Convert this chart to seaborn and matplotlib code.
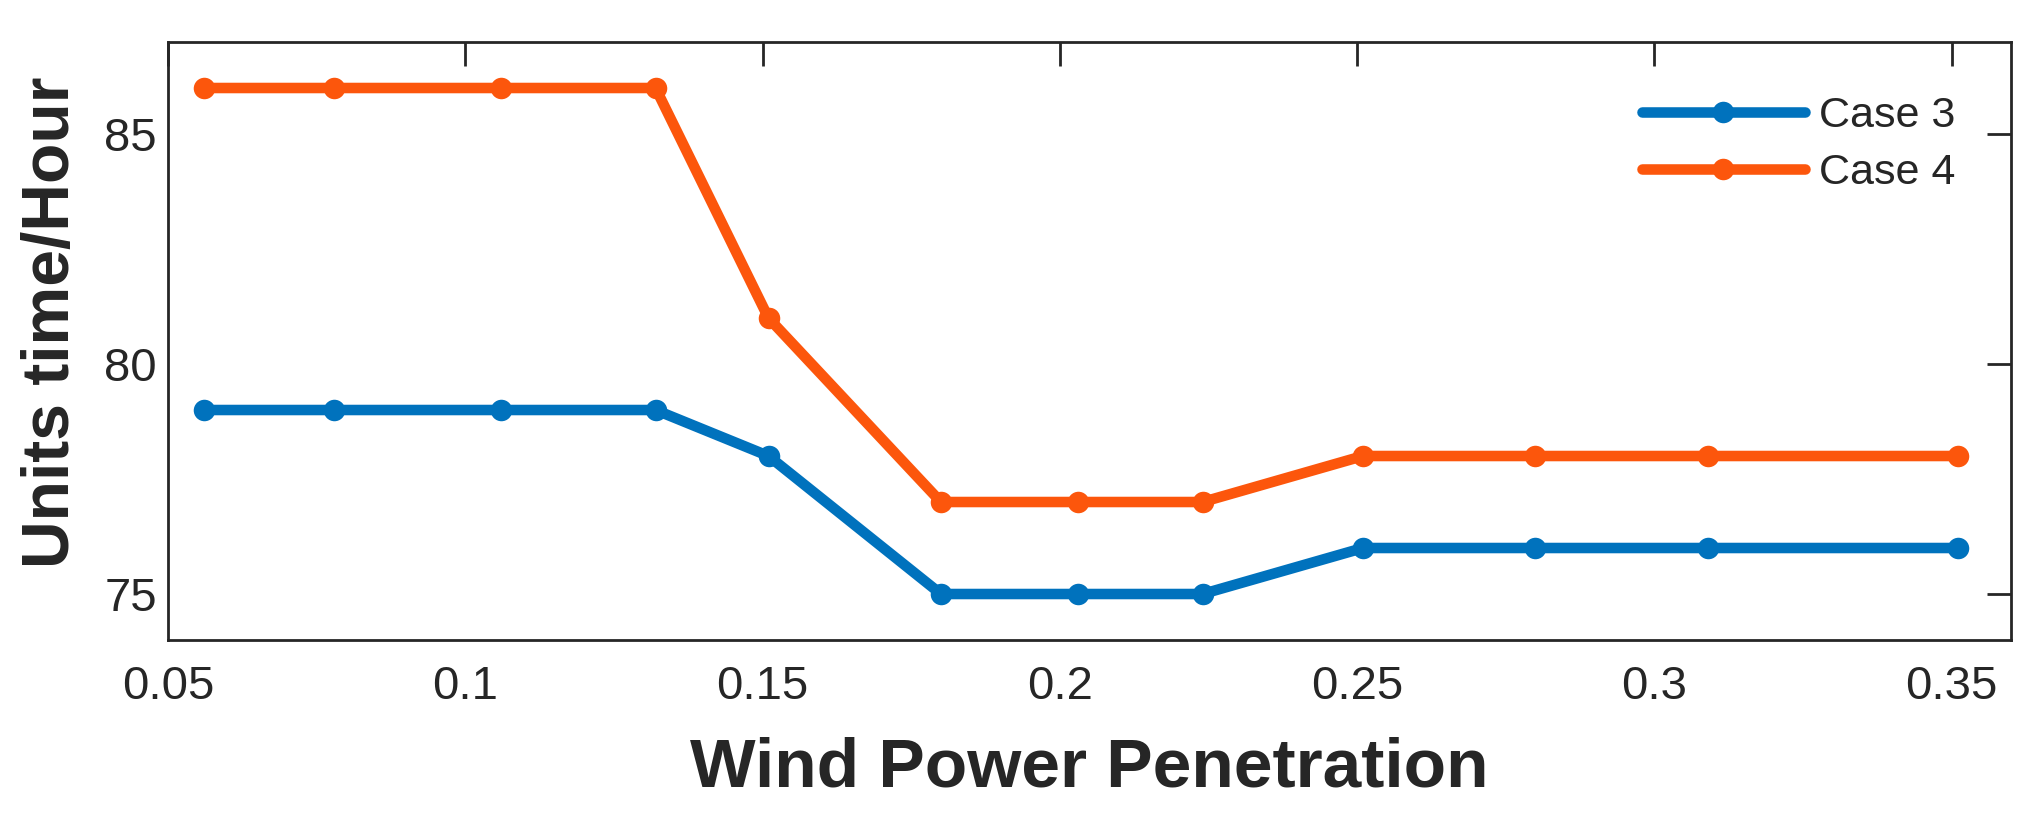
import pandas as pd
import matplotlib
matplotlib.use("Agg")
import matplotlib.pyplot as plt
import seaborn as sns

# datos
penetration = [0.056, 0.078, 0.106, 0.132, 0.151, 0.180, 0.203, 0.224, 0.251, 0.280, 0.309, 0.351]
case3 = [79, 79, 79, 79, 78, 75, 75, 75, 76, 76, 76, 76]
case4 = [86, 86, 86, 86, 81, 77, 77, 77, 78, 78, 78, 78]
series_names = ["Case 3", "Case 4"]
x_ticks = [0.05, 0.1, 0.15, 0.2, 0.25, 0.3, 0.35]
x_tick_labels = ["0.05", "0.1", "0.15", "0.2", "0.25", "0.3", "0.35"]
y_ticks = [75, 80, 85]

df = pd.DataFrame({
    "penetration": penetration * 2,
    "units": case3 + case4,
    "case": [series_names[0]] * len(case3) + [series_names[1]] * len(case4),
})

sns.set_style("white")
plt.rcParams["font.family"] = ["Liberation Sans", "DejaVu Sans"]

fig = plt.figure(figsize=(20.44, 8.22), dpi=100)
ax = fig.add_axes([0.0822, 0.2214, 0.9017, 0.7275])

sns.lineplot(data=df, x="penetration", y="units", hue="case",
             palette=["#0072BD", "#FC560C"], marker="o", markersize=15.5,
             markeredgewidth=0, linewidth=7.6, ax=ax)

ax.set_xlim(0.05, 0.36)
ax.set_ylim(74, 87)
ax.set_xticks(x_ticks)
ax.set_xticklabels(x_tick_labels)
ax.set_yticks(y_ticks)
ax.tick_params(axis="both", direction="in", length=17, width=2, colors="#262626",
               labelsize=34, top=True, right=True)
ax.tick_params(axis="x", pad=18)
ax.tick_params(axis="y", pad=8)
for s in ax.spines.values():
    s.set_color("#262626")
    s.set_linewidth(2)

ax.set_xlabel("Wind Power Penetration", fontsize=50, fontweight="bold", color="#262626", labelpad=20)
ax.set_ylabel("Units time/Hour", fontsize=47.5, fontweight="bold", color="#262626", labelpad=15, y=0.532)

leg = ax.legend(loc="upper right", bbox_to_anchor=(0.991, 0.975), frameon=False, fontsize=31,
                handlelength=3.8, handletextpad=0.33, labelspacing=0.4)

plt.savefig("out.png", dpi=100)
